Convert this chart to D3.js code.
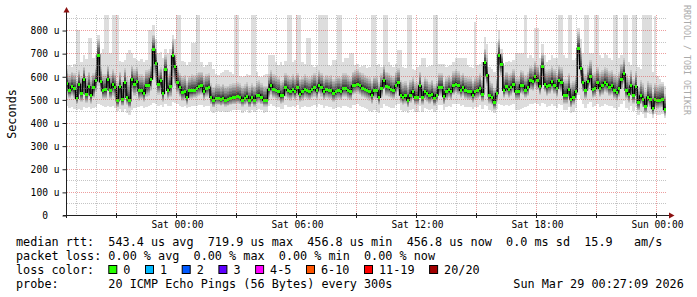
<!DOCTYPE html>
<html><head><meta charset="utf-8">
<script src="https://cdn.jsdelivr.net/npm/d3@7"></script>
<style>
html,body{margin:0;padding:0;background:#fff;}
svg{display:block;}
text{font-family:"DejaVu Sans Mono",monospace;white-space:pre;}
</style></head><body>
<svg id="c" width="697" height="297"></svg>
<script>
// ---- data (RTT values in microseconds) ----
const startTime = Date.UTC(2026, 2, 27, 18, 27, 9);
const endTime   = Date.UTC(2026, 2, 29, 0, 27, 9);
const stepSeconds = 432;

const median = [
569,540,555,545,505,566,526,587,523,555,519,552,581,692,576,537,543,587,540,566,552,494,555,500,572,509,494,587,566,576,537,540,526,558,562,588,716,656,566,581,526,630,540,555,688,641,572,552,529,533,
509,537,537,540,548,555,558,533,548,552,509,494,505,505,500,505,497,500,505,509,509,512,509,497,505,512,494,509,497,515,519,509,497,497,543,562,543,540,533,515,519,552,540,533,543,533,552,523,533,543,
537,533,543,552,537,562,552,533,543,537,540,526,533,540,533,548,548,540,533,558,562,566,558,548,543,540,533,519,540,537,509,548,581,555,552,543,537,558,572,519,509,515,497,519,533,509,509,558,509,533,
526,515,523,505,519,552,552,512,533,543,533,558,566,558,540,552,537,533,533,519,533,537,548,523,659,605,515,509,486,526,692,653,540,555,543,552,566,533,533,562,558,540,552,581,576,598,583,555,644,566,
555,562,576,562,548,581,572,519,519,543,500,509,533,719.9,634,572,540,576,601,543,548,572,548,558,572,566,552,558,540,529,548,587,610,540,523,558,519,555,486,515,500,471,509,500,461,500,494,497,500,456.8];

const rttMin = [
470,462,468,460,452,458,455,465,462,466,460,464,468,480,474,470,468,472,466,470,462,448,460,445,458,440,432,455,462,468,466,470,462,468,470,474,486,480,472,476,466,478,470,472,488,484,478,472,468,470,
462,468,470,470,472,475,476,466,472,472,448,440,448,450,446,450,444,446,450,452,452,454,452,442,448,454,440,452,444,455,458,452,442,444,470,478,470,468,465,458,460,474,468,465,470,465,474,460,465,470,
468,466,470,474,466,478,474,464,470,466,468,460,464,468,464,472,472,468,462,474,476,478,472,466,462,458,450,445,452,450,440,462,482,470,468,464,462,474,480,452,446,450,440,452,460,446,446,470,446,462,
460,455,458,446,456,474,474,452,466,472,466,478,482,478,470,476,468,466,466,458,466,468,474,460,476,470,452,448,440,460,480,476,470,476,472,476,480,455,452,460,462,466,472,480,478,486,482,472,484,478,
468,472,478,470,462,480,476,452,452,466,440,446,462,520,500,478,462,478,490,466,470,478,468,472,478,476,470,472,462,456,466,480,492,462,452,470,448,466,432,446,438,420,442,436,420,436,432,434,436,420];

const rttLow = [
520,505,515,505,480,520,490,535,485,510,480,505,530,560,530,500,500,535,500,515,505,465,505,470,520,475,462,530,515,525,495,500,490,510,515,535,600,575,520,530,490,560,500,510,590,560,525,510,495,495,
475,500,500,505,510,515,518,495,510,515,478,465,475,475,470,475,468,470,475,478,478,480,478,468,475,480,465,478,468,482,485,478,468,468,505,520,505,502,495,482,485,512,502,495,505,495,512,488,495,505,
500,496,505,512,500,522,512,496,505,500,502,490,496,502,496,510,510,502,496,518,522,525,518,510,505,502,495,482,502,500,475,510,540,515,512,505,500,518,530,484,475,480,465,484,496,475,475,518,475,496,
490,480,488,470,484,515,515,478,498,506,498,520,528,520,505,515,502,498,498,484,498,502,512,488,590,560,480,475,455,490,620,600,505,518,508,515,528,496,496,525,520,505,515,540,535,555,542,518,590,530,
515,522,535,522,510,540,532,482,482,505,465,475,496,660,590,532,502,535,558,505,510,532,510,520,532,526,514,520,502,492,510,545,565,502,486,520,482,516,452,480,465,440,475,465,432,465,460,462,465,430];

const rttHigh = [
630,610,620,615,590,625,600,640,600,620,595,615,640,760,640,610,610,645,610,630,615,580,620,585,635,595,585,645,630,640,610,610,600,625,630,645,780,720,630,640,600,690,610,625,760,700,635,615,600,605,
580,600,610,605,615,620,620,600,610,615,570,555,565,565,560,568,558,560,566,570,570,575,570,558,566,575,556,570,560,578,582,570,560,560,610,625,610,605,598,580,585,615,605,598,610,598,615,590,598,608,
600,595,605,615,600,625,615,595,605,600,605,588,595,602,595,612,612,605,596,620,625,630,620,612,606,602,595,580,602,600,575,615,650,620,615,606,600,620,635,585,575,580,562,585,596,575,575,620,575,596,
588,575,585,565,580,615,615,575,596,606,596,622,630,622,605,615,600,596,596,580,596,600,612,585,720,690,578,572,550,590,760,700,605,620,608,615,630,596,596,628,622,605,618,645,640,665,650,620,700,632,
625,630,645,630,615,650,640,590,590,612,570,580,600,790,710,640,610,645,670,612,618,640,618,628,640,635,622,628,610,600,618,655,680,610,592,628,590,622,555,585,570,540,578,570,530,570,562,565,568,525];

const rttMax = [
645,650,640,655,800,800,660,690,675,765,765,680,690,780,700,720,900,900,700,900,900,900,665,660,670,700,713,700,680,670,665,675,660,670,800,800,820,760,700,705,680,720,700,720,780,760,900,900,665,660,
650,660,743,743,900,900,662,640,650,662,662,630,610,605,615,620,627,627,620,610,900,900,600,597,600,610,605,900,900,620,600,595,605,610,690,690,690,660,650,660,650,665,900,900,660,670,900,900,660,655,
765,765,650,640,645,900,900,900,900,650,645,670,670,900,900,660,680,680,700,700,650,655,640,645,650,635,640,900,900,650,655,640,900,900,660,650,640,655,713,713,640,635,900,900,630,625,640,650,680,680,
640,645,650,900,900,655,655,655,640,645,650,660,680,680,680,680,680,650,640,635,835,650,655,660,770,740,640,630,620,743,800,720,650,660,665,660,670,700,700,700,700,900,680,690,680,808,808,680,740,690,
660,670,690,680,680,900,900,690,680,900,900,670,680,810,760,700,900,900,700,700,900,900,690,680,700,690,680,670,900,900,680,690,900,900,660,650,900,900,640,630,900,900,900,900,620,860,600,590,575,560];

const yTickValues = [0,100,200,300,400,500,600,700,800];
const yMinorValues = [50,150,250,350,450,550,650,750,850];
const xLabelFormat = "%a %H:%M";

const legendRows = [
  "median rtt:  543.4 us avg  719.9 us max  456.8 us min  456.8 us now  0.0 ms sd  15.9   am/s",
  "packet loss: 0.00 % avg  0.00 % max  0.00 % min  0.00 % now",
  "loss color:",
  "probe:       20 ICMP Echo Pings (56 Bytes) every 300s"
];
const lossLabels = ["0","1","2","3","4-5","6-10","11-19","20/20"];
const lossColors = ["#26ff00","#00b8ff","#0059ff","#5e00ff","#ff00ff","#ff5500","#ff0000","#a10000"];
const dateText = "Sun Mar 29 00:27:09 2026";
const yTitle = "Seconds";
const watermark = "RRDTOOL / TOBI OETIKER";

// ---- drawing ----
const svg = d3.select("#c");
svg.append("rect").attr("width",697).attr("height",297).attr("fill","#ffffff");

const x = d3.scaleUtc().domain([new Date(startTime), new Date(endTime)]).range([66, 666]);
const y = d3.scaleLinear().domain([0, 865]).range([215, 15]).clamp(true);

const steps = median.map((m, i) => ({
  i, m,
  t0: new Date(startTime + i * stepSeconds * 1000),
  t1: new Date(startTime + (i + 1) * stepSeconds * 1000)
}));

const innerFrac = [0.88, 0.76, 0.64, 0.53, 0.42, 0.32, 0.22, 0.12];
function bounds(i, k) {
  if (k === 1) return [rttMin[i], rttMax[i]];
  if (k === 2) return [rttLow[i], rttHigh[i]];
  const f = innerFrac[k - 3], m = median[i];
  return [m - (m - rttLow[i]) * f, m + (rttHigh[i] - m) * f];
}

const area = d3.area()
  .x(d => x(d.t)).y0(d => y(d.lo)).y1(d => y(d.hi))
  .curve(d3.curveStepAfter);

const smoke = svg.append("g");
for (let k = 1; k <= 10; k++) {
  const pts = steps.map(s => { const b = bounds(s.i, k); return {t: s.t0, lo: b[0], hi: b[1]}; });
  const last = pts[pts.length - 1];
  pts.push({t: new Date(endTime), lo: last.lo, hi: last.hi});
  const g = Math.round(50 + 190 / 10 * (10 - k));
  smoke.append("path").datum(pts).attr("d", area)
    .attr("fill", d3.rgb(g, g, g).formatHex())
    .attr("shape-rendering", "crispEdges");
}

// median line
const linePts = steps.map(s => ({t: s.t0, v: s.m}));
linePts.push({t: new Date(endTime), v: median[median.length - 1]});
svg.append("path").datum(linePts)
  .attr("d", d3.line().x(d => x(d.t)).y(d => y(d.v)).curve(d3.curveStepAfter))
  .attr("fill", "none").attr("stroke", "#000").attr("stroke-width", 1.5);

// loss-coloured median marks (all 0 loss)
svg.append("g").selectAll("rect").data(steps).join("rect")
  .attr("x", d => x(d.t0)).attr("width", d => x(d.t1) - x(d.t0))
  .attr("y", d => y(d.m) - 1.5).attr("height", 3)
  .attr("fill", lossColors[0]).attr("shape-rendering", "crispEdges");

// grid (drawn over the data, as rrdtool does)
const grid = svg.append("g").attr("fill", "none").attr("stroke-dasharray", "1,1").attr("stroke-width", 1);
const minorCol = "rgba(140,140,140,0.5)", majorCol = "rgba(222,79,79,0.55)";
grid.selectAll(".hmin").data(yMinorValues).join("line")
  .attr("x1", 67).attr("x2", 666).attr("y1", d => Math.round(y(d)) + 0.5).attr("y2", d => Math.round(y(d)) + 0.5)
  .attr("stroke", minorCol);
grid.selectAll(".hmaj").data(yTickValues.filter(v => v > 0)).join("line")
  .attr("x1", 67).attr("x2", 666).attr("y1", d => Math.round(y(d)) + 0.5).attr("y2", d => Math.round(y(d)) + 0.5)
  .attr("stroke", majorCol);
const hours = x.ticks(d3.utcHour.every(1));
grid.selectAll(".vmin").data(hours.filter(h => h.getUTCHours() % 3 !== 0)).join("line")
  .attr("x1", d => Math.floor(x(d)) + 0.5).attr("x2", d => Math.floor(x(d)) + 0.5).attr("y1", 15).attr("y2", 215)
  .attr("stroke", minorCol);
grid.selectAll(".vmaj").data(hours.filter(h => h.getUTCHours() % 3 === 0)).join("line")
  .attr("x1", d => Math.floor(x(d)) + 0.5).attr("x2", d => Math.floor(x(d)) + 0.5).attr("y1", 15).attr("y2", 215)
  .attr("stroke", majorCol);

// axes
const axisCol = "#202020";
svg.append("line").attr("x1", 63).attr("x2", 669).attr("y1", 215.5).attr("y2", 215.5).attr("stroke", axisCol);
svg.append("line").attr("x1", 66.5).attr("x2", 66.5).attr("y1", 218).attr("y2", 12).attr("stroke", axisCol);
svg.append("path").attr("d", "M66.5,7 L63.5,12.5 L69.5,12.5 Z").attr("fill", "#8b1010");
svg.append("path").attr("d", "M674.5,215.5 L669,212.5 L669,218.5 Z").attr("fill", "#8b1010");

// major x ticks
svg.append("g").selectAll("line").data(hours.filter(h => h.getUTCHours() % 3 === 0)).join("line")
  .attr("x1", d => Math.floor(x(d)) + 0.5).attr("x2", d => Math.floor(x(d)) + 0.5)
  .attr("y1", 213).attr("y2", 218).attr("stroke", axisCol);

// y axis labels via d3 axis
const yAxis = d3.axisLeft(y).tickValues(yTickValues)
  .tickFormat(v => v === 0 ? "0\u00a0\u00a0" : v + " u").tickSize(4).tickPadding(3);
const ya = svg.append("g").attr("transform", "translate(66.5,0.5)").call(yAxis);
ya.select(".domain").remove();
ya.selectAll("line").attr("stroke", axisCol);
ya.selectAll("text").attr("font-family", "DejaVu Sans Mono").attr("font-size", "9.6px").attr("fill", "#000").attr("dy", "0.34em");

// x axis labels
const xAxis = d3.axisBottom(x).ticks(d3.utcHour.every(6)).tickFormat(d3.utcFormat(xLabelFormat)).tickSize(0).tickPadding(5.2);
const xa = svg.append("g").attr("transform", "translate(0,215.5)").call(xAxis);
xa.select(".domain").remove();
xa.selectAll("text").attr("font-family", "DejaVu Sans Mono").attr("font-size", "9.6px").attr("fill", "#000");

// titles
svg.append("text").attr("transform", "translate(15.5,114) rotate(-90)").attr("text-anchor", "middle")
  .attr("font-size", "11.8px").text(yTitle);
svg.append("text").attr("transform", "translate(683.5,5) rotate(90)").attr("text-anchor", "start")
  .attr("font-size", "8.3px").attr("fill", "#aaaaaa").text(watermark);

// legend
const leg = svg.append("g").attr("font-size", "11.8px").attr("fill", "#000");
legendRows.forEach((r, i) => leg.append("text").attr("x", 16).attr("y", 245.5 + i * 14).text(r));
const pitch = 7.1;
let bx = 108.3;
lossLabels.forEach((lab, i) => {
  leg.append("rect").attr("x", bx + 0.5).attr("y", 265.5).attr("width", 8).attr("height", 8)
    .attr("fill", lossColors[i]).attr("stroke", "#000").attr("stroke-width", 1);
  leg.append("text").attr("x", bx + 15).attr("y", 273.5).text(lab);
  bx = bx + 15 + lab.length * pitch + 14.6;
});
leg.append("text").attr("x", 513.3).attr("y", 287.5).text(dateText);
</script>
</body></html>
